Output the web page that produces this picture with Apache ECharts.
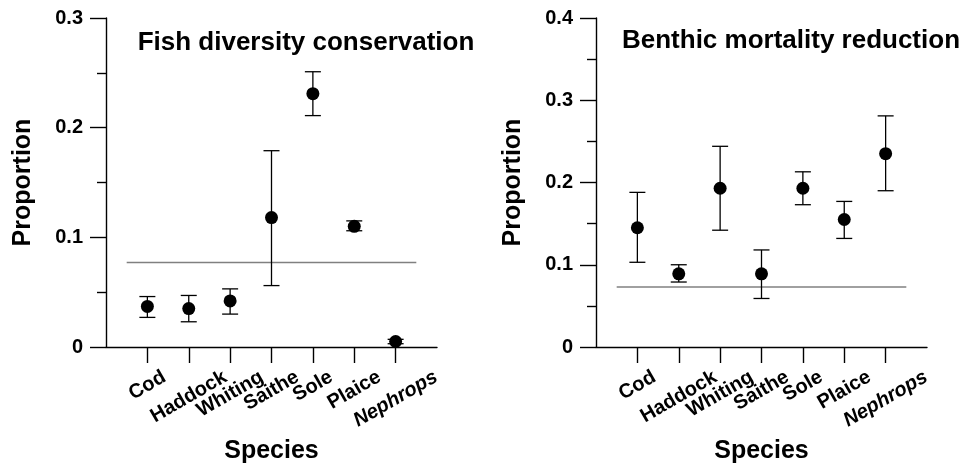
<!DOCTYPE html>
<html>
<head>
<meta charset="utf-8">
<script src="https://cdn.jsdelivr.net/npm/echarts@6/dist/echarts.min.js"></script>
<style>
  html, body { margin: 0; padding: 0; background: #fff; }
  #chart { width: 959px; height: 471px; }
</style>
</head>
<body>
<div id="chart"></div>
<script>
// species on the x axis, placed at 1..7 on a 0..8 axis
const species = ['Cod', 'Haddock', 'Whiting', 'Saithe', 'Sole', 'Plaice', 'Nephrops']
const speciesPos = [1, 2, 3, 4, 5, 6, 7]

// fish diversity conservation
const fishMean = [0.037, 0.035, 0.042, 0.118, 0.231, 0.110, 0.005]
const fishLow = [0.027, 0.023, 0.030, 0.056, 0.211, 0.106, 0.003]
const fishHigh = [0.046, 0.047, 0.053, 0.179, 0.251, 0.115, 0.007]
const fishRef = 0.077

// benthic mortality reduction
const benthicMean = [0.145, 0.089, 0.193, 0.089, 0.193, 0.155, 0.235]
const benthicLow = [0.103, 0.079, 0.142, 0.059, 0.173, 0.132, 0.190]
const benthicHigh = [0.188, 0.100, 0.244, 0.118, 0.213, 0.177, 0.281]
const benthicRef = 0.073

const refSpan = [0.5, 7.5]
const fishTicks = [0, 0.1, 0.2, 0.3]
const benthicTicks = [0, 0.1, 0.2, 0.3, 0.4]

const FONT = '"Liberation Sans", Arial, Helvetica, sans-serif'
const INK = '#000'
const ROT = 30

// labels are rotated about their centre and hang from a common top line,
// so each one gets its own padding to shift it down along the tick
function buildLabelRich() {
  const ctx = document.createElement('canvas').getContext('2d')
  const th = ROT * Math.PI / 180
  const rich = {}
  species.forEach((name, i) => {
    const italic = name === 'Nephrops'
    ctx.font = (italic ? 'italic ' : '') + 'bold 20px "Liberation Sans"'
    const w = ctx.measureText(name).width
    const h = 20
    const d = (w * Math.sin(th) + h * Math.cos(th)) / 2
    rich['s' + i] = {
      fontSize: 20,
      fontWeight: 'bold',
      fontStyle: italic ? 'italic' : 'normal',
      fontFamily: FONT,
      color: INK,
      padding: [2 * d * Math.cos(th), 2 * d * Math.sin(th), 0, 0]
    }
  })
  return rich
}
const labelRich = buildLabelRich()

function xAxisFor(gridIndex) {
  return {
    type: 'value',
    gridIndex: gridIndex,
    min: 0,
    max: 8,
    interval: 1,
    name: 'Species',
    nameLocation: 'middle',
    nameGap: 92,
    nameTextStyle: { fontSize: 25, fontWeight: 'bold', fontFamily: FONT, color: INK },
    splitLine: { show: false },
    axisLine: { show: true, lineStyle: { color: INK, width: 1.4 } },
    axisTick: { show: true, length: 16, customValues: speciesPos, lineStyle: { color: INK, width: 1.4 } },
    axisLabel: {
      customValues: speciesPos,
      rotate: ROT,
      align: 'center',
      verticalAlign: 'middle',
      margin: 20,
      formatter: function (value) {
        const i = Math.round(value) - 1
        return '{s' + i + '|' + species[i] + '}'
      },
      rich: labelRich
    }
  }
}

function yAxisFor(gridIndex, ticks) {
  return {
    type: 'value',
    gridIndex: gridIndex,
    min: 0,
    max: ticks[ticks.length - 1],
    interval: 0.1,
    name: 'Proportion',
    nameLocation: 'middle',
    nameGap: 70,
    nameTextStyle: { fontSize: 25, fontWeight: 'bold', fontFamily: FONT, color: INK },
    splitLine: { show: false },
    axisLine: { show: true, lineStyle: { color: INK, width: 1.4 } },
    axisTick: { show: true, length: 16, lineStyle: { color: INK, width: 1.4 } },
    minorTick: { show: true, splitNumber: 2, length: 9, lineStyle: { color: INK, width: 1.4 } },
    axisLabel: {
      margin: 23,
      fontSize: 20,
      fontWeight: 'bold',
      fontFamily: FONT,
      color: INK,
      formatter: function (value) {
        return value === 0 ? '0' : value.toFixed(1)
      }
    }
  }
}

function errorBars(idx, low, high) {
  return {
    type: 'custom',
    xAxisIndex: idx,
    yAxisIndex: idx,
    silent: true,
    data: speciesPos.map((x, i) => [x, low[i], high[i]]),
    encode: { x: 0, y: [1, 2] },
    renderItem: function (params, api) {
      const top = api.coord([api.value(0), api.value(2)])
      const bot = api.coord([api.value(0), api.value(1)])
      const cap = 8
      const style = { stroke: '#000', lineWidth: 1.3 }
      return {
        type: 'group',
        children: [
          { type: 'line', shape: { x1: top[0], y1: top[1], x2: bot[0], y2: bot[1] }, style: style },
          { type: 'line', shape: { x1: top[0] - cap, y1: top[1], x2: top[0] + cap, y2: top[1] }, style: style },
          { type: 'line', shape: { x1: bot[0] - cap, y1: bot[1], x2: bot[0] + cap, y2: bot[1] }, style: style }
        ]
      }
    }
  }
}

function means(idx, mean) {
  return {
    type: 'scatter',
    xAxisIndex: idx,
    yAxisIndex: idx,
    symbol: 'circle',
    symbolSize: 13,
    itemStyle: { color: INK, opacity: 1 },
    data: speciesPos.map((x, i) => [x, mean[i]])
  }
}

function refLine(idx, value) {
  return {
    type: 'line',
    xAxisIndex: idx,
    yAxisIndex: idx,
    silent: true,
    symbol: 'none',
    lineStyle: { color: '#808080', width: 1.5 },
    data: [[refSpan[0], value], [refSpan[1], value]],
    z: 1
  }
}

const chart = echarts.init(document.getElementById('chart'))
chart.setOption({
  animation: false,
  backgroundColor: '#fff',
  title: [
    {
      text: 'Fish diversity conservation',
      left: 301,
      top: 25,
      textAlign: 'center',
      textStyle: { fontSize: 26, fontWeight: 'bold', fontFamily: FONT, color: INK }
    },
    {
      text: 'Benthic mortality reduction',
      left: 786,
      top: 23,
      textAlign: 'center',
      textStyle: { fontSize: 26, fontWeight: 'bold', fontFamily: FONT, color: INK }
    }
  ],
  grid: [
    { left: 106, top: 18, width: 331, height: 329 },
    { left: 596, top: 18, width: 331, height: 329 }
  ],
  xAxis: [xAxisFor(0), xAxisFor(1)],
  yAxis: [yAxisFor(0, fishTicks), yAxisFor(1, benthicTicks)],
  series: [
    refLine(0, fishRef),
    errorBars(0, fishLow, fishHigh),
    means(0, fishMean),
    refLine(1, benthicRef),
    errorBars(1, benthicLow, benthicHigh),
    means(1, benthicMean)
  ]
})
</script>
</body>
</html>
